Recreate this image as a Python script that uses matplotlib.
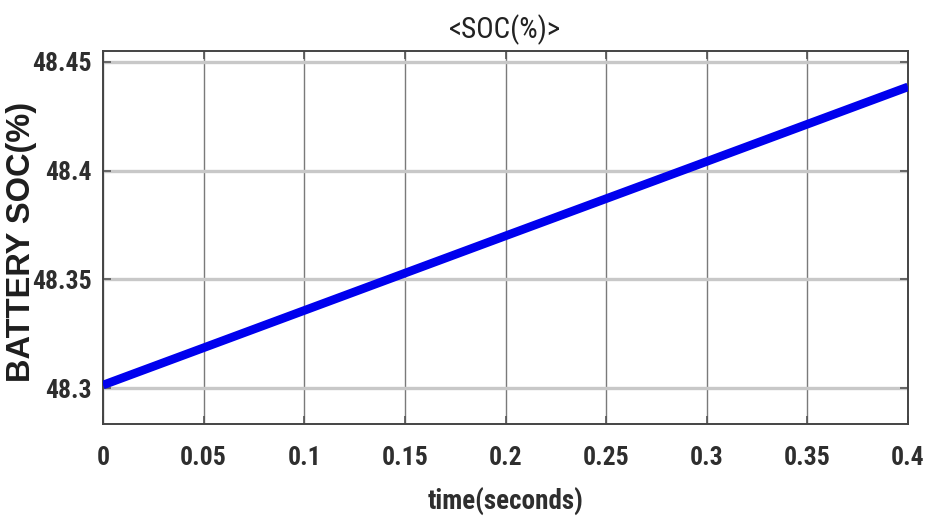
import matplotlib
matplotlib.use("Agg")
import matplotlib.pyplot as plt
from matplotlib import font_manager

# SOC samples over the simulation window
time_s = [0.0, 0.1, 0.2, 0.3, 0.4]
soc_pct = [48.3014, 48.3357, 48.3700, 48.4042, 48.4385]

x_ticks = [0, 0.05, 0.1, 0.15, 0.2, 0.25, 0.3, 0.35, 0.4]
x_tick_labels = ["0", "0.05", "0.1", "0.15", "0.2", "0.25", "0.3", "0.35", "0.4"]
y_ticks = [48.3, 48.35, 48.4, 48.45]
y_tick_labels = ["48.3", "48.35", "48.4", "48.45"]

names = {f.name for f in font_manager.fontManager.ttflist}
narrow = "Liberation Sans"
for cand in ["Liberation Sans Narrow", "Arial Narrow", "Nimbus Sans Narrow",
             "Roboto Condensed", "Archivo Narrow", "PT Sans Narrow",
             "Open Sans Condensed"]:
    if cand in names:
        narrow = cand
        break

W, H = 926, 521
fig = plt.figure(figsize=(W / 100, H / 100), dpi=100)
ax = fig.add_axes([103 / W, 1 - 424 / H, (908 - 103) / W, (424 - 51) / H])

ax.plot(time_s, soc_pct, color="#0000ee", lw=6.2, solid_capstyle="butt", zorder=3)

ax.set_xlim(0, 0.4)
ax.set_ylim(48.2835, 48.455)
ax.set_xticks(x_ticks)
ax.set_xticklabels(x_tick_labels)
ax.set_yticks(y_ticks)
ax.set_yticklabels(y_tick_labels)

# horizontal grid lines are softer and wider than the vertical ones
ax.yaxis.grid(True, color="#c8c8c8", lw=2.4)
ax.xaxis.grid(True, color="#7a7a7a", lw=1.0)
ax.tick_params(direction="in", length=6, width=1.2, color="#555555",
               top=True, right=True)
ax.tick_params(axis="y", pad=8)
ax.tick_params(axis="x", pad=16)
for lab in ax.get_xticklabels() + ax.get_yticklabels():
    lab.set_fontfamily(narrow)
    lab.set_fontsize(18.5)
    lab.set_fontweight("semibold")
    lab.set_color("#2e2e2e")

for s in ax.spines.values():
    s.set_color("#444444")
    s.set_linewidth(1.4)

ax.set_title("<SOC(%)>", fontfamily=narrow, fontsize=21,
             color="#222222", pad=9)
ax.set_xlabel("time(seconds)", fontfamily=narrow, fontweight="semibold",
              fontsize=19.5, color="#2e2e2e", labelpad=13)
fig.text(22 / W, 1 - 242 / H, "BATTERY SOC(%)", rotation=90, ha="center",
         va="center", fontfamily="Liberation Sans", fontweight="bold",
         fontsize=23.5, color="#1e1e1e")

fig.savefig("out.png", dpi=100, facecolor="white")
